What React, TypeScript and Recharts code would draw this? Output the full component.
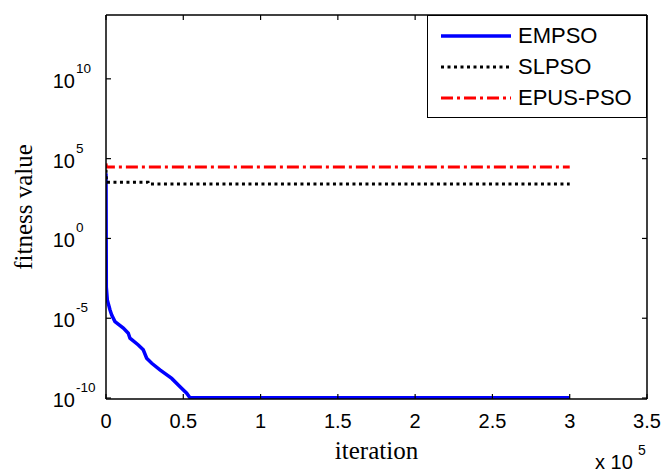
import React from "react";
import { LineChart, Line, XAxis, YAxis, Legend } from "recharts";

// iteration values and fitness values
const empsoIter = [0, 200, 840, 2600, 3700, 5800, 11200, 14400, 15500, 20900, 24100, 26300, 29600, 34900, 42500, 47900, 52200, 54300, 300000];
const empsoFit = [1.2e4, 9e-4, 1.4e-4, 3.3e-5, 1.6e-5, 6.2e-6, 2.4e-6, 1.15e-6, 5.6e-7, 2.1e-7, 1.05e-7, 3.1e-8, 1.5e-8, 5.8e-9, 1.7e-9, 5.1e-10, 2.0e-10, 1.05e-10, 1.05e-10];

const slpsoIter = [0, 300, 27200, 27300, 300000];
const slpsoFit = [2e4, 3.3e3, 3.3e3, 2.6e3, 2.6e3];

const epusIter = [0, 300, 300000];
const epusFit = [5e4, 3.0e4, 3.0e4];

const xTicks = [0, 50000, 100000, 150000, 200000, 250000, 300000, 350000];
const yTicks = [1e-10, 1e-5, 1, 1e5, 1e10];
const yExponents = ["-10", "-5", "0", "5", "10"];

const toRows = (iter: number[], fit: number[]) => iter.map((it, i) => ({ iter: it, value: fit[i] }));

const empsoData = toRows(empsoIter, empsoFit);
const slpsoData = toRows(slpsoIter, slpsoFit);
const epusData = toRows(epusIter, epusFit);

const series = [
  { name: "EMPSO", data: empsoData, color: "#0000ff", width: 3.5, dash: undefined as string | undefined },
  { name: "SLPSO", data: slpsoData, color: "#000000", width: 3, dash: "3 3.5" },
  { name: "EPUS-PSO", data: epusData, color: "#ff0000", width: 3, dash: "12 4 3 4" },
];

const SANS = "'Liberation Sans', Arial, sans-serif";
const SERIF = "'Liberation Serif', 'Times New Roman', serif";

const BottomTick = ({ x, y, payload }: any) => (
  <g>
    <line x1={x} x2={x} y1={y} y2={y - 5} stroke="#000" strokeWidth={1.2} />
    <text x={x} y={y + 29} textAnchor="middle" fontSize={20} fontFamily={SANS} fill="#000">
      {payload.value / 1e5}
    </text>
  </g>
);

const TopTick = ({ x, y }: any) => (
  <line x1={x} x2={x} y1={y} y2={y + 5} stroke="#000" strokeWidth={1.2} />
);

const LeftTick = ({ x, y, payload }: any) => {
  const idx = yTicks.indexOf(payload.value);
  return (
    <g>
      <line x1={x} x2={x + 5} y1={y} y2={y} stroke="#000" strokeWidth={1.2} />
      <text x={x - 31} y={y + 9} textAnchor="end" fontSize={20} fontFamily={SANS} fill="#000">
        10
      </text>
      <text x={x - 30} y={y - 6} textAnchor="start" fontSize={13.5} fontFamily={SANS} fill="#000">
        {yExponents[idx]}
      </text>
    </g>
  );
};

const RightTick = ({ x, y }: any) => (
  <line x1={x} x2={x - 5} y1={y} y2={y} stroke="#000" strokeWidth={1.2} />
);

const XLabel = ({ viewBox }: any) => {
  const { x, y, width } = viewBox;
  return (
    <g>
      <text x={x + width / 2} y={y + 60} textAnchor="middle" fontSize={25} fontFamily={SERIF} fill="#000">
        iteration
      </text>
      <text x={x + width - 52} y={y + 70} fontSize={20} fontFamily={SANS} fill="#000">
        x 10
      </text>
      <text x={x + width - 9} y={y + 56} fontSize={14} fontFamily={SANS} fill="#000">
        5
      </text>
    </g>
  );
};

const YLabel = ({ viewBox }: any) => {
  const { y, height } = viewBox;
  const cx = 32;
  const cy = y + height / 2;
  return (
    <text
      x={cx}
      y={cy}
      transform={`rotate(-90, ${cx}, ${cy})`}
      textAnchor="middle"
      fontSize={25}
      fontFamily={SERIF}
      fill="#000"
    >
      fitness value
    </text>
  );
};

const LegendBox = () => (
  <div
    style={{
      width: 220,
      height: 103,
      boxSizing: "border-box",
      border: "1.5px solid #000",
      background: "#fff",
      paddingTop: 4,
    }}
  >
    {series.map((s) => (
      <div key={s.name} style={{ display: "flex", alignItems: "center", height: 31 }}>
        <svg width={84} height={10} style={{ marginLeft: 13 }}>
          <line x1={0} x2={70} y1={5} y2={5} stroke={s.color} strokeWidth={s.width} strokeDasharray={s.dash} />
        </svg>
        <span style={{ fontFamily: SANS, fontSize: 22, color: "#000", marginLeft: -7 }}>{s.name}</span>
      </div>
    ))}
  </div>
);

export default function App() {
  return (
    <div style={{ position: "absolute", left: 0, top: 0, background: "#fff" }}>
      <LineChart width={665} height={473} margin={{ top: 14, right: 17, bottom: 14, left: 0 }}>
        <XAxis
          type="number"
          dataKey="iter"
          domain={[0, 350000]}
          ticks={xTicks}
          allowDataOverflow
          height={60}
          tickSize={0}
          tickMargin={0}
          tickLine={false}
          axisLine={{ stroke: "#000", strokeWidth: 1.5 }}
          tick={<BottomTick />}
          interval={0}
          label={<XLabel />}
        />
        <XAxis
          xAxisId="top"
          orientation="top"
          type="number"
          dataKey="iter"
          domain={[0, 350000]}
          ticks={xTicks}
          allowDataOverflow
          height={1}
          tickSize={0}
          tickMargin={0}
          tickLine={false}
          axisLine={{ stroke: "#000", strokeWidth: 1.5 }}
          tick={<TopTick />}
          interval={0}
        />
        <YAxis
          type="number"
          scale="log"
          domain={[8.7e-11, 1e14]}
          ticks={yTicks}
          allowDataOverflow
          width={106}
          tickSize={0}
          tickMargin={0}
          tickLine={false}
          axisLine={{ stroke: "#000", strokeWidth: 1.5 }}
          tick={<LeftTick />}
          interval={0}
          label={<YLabel />}
        />
        <YAxis
          yAxisId="right"
          orientation="right"
          type="number"
          scale="log"
          domain={[8.7e-11, 1e14]}
          ticks={yTicks}
          allowDataOverflow
          width={1}
          tickSize={0}
          tickMargin={0}
          tickLine={false}
          axisLine={{ stroke: "#000", strokeWidth: 1.5 }}
          tick={<RightTick />}
          interval={0}
        />
        {/* invisible series so the mirrored top/right axes (box frame) get a domain */}
        <Line
          xAxisId="top"
          yAxisId="right"
          data={epusData}
          dataKey="value"
          stroke="none"
          dot={false}
          activeDot={false}
          legendType="none"
          isAnimationActive={false}
        />
        {series.map((s) => (
          <Line
            key={s.name}
            data={s.data}
            dataKey="value"
            name={s.name}
            type="linear"
            stroke={s.color}
            strokeWidth={s.width}
            strokeDasharray={s.dash}
            dot={false}
            activeDot={false}
            isAnimationActive={false}
          />
        ))}
        <Legend
          layout="vertical"
          align="center"
          verticalAlign="middle"
          content={<LegendBox />}
          wrapperStyle={{ position: "absolute", left: 427, top: 15, width: 220, height: 103 }}
        />
      </LineChart>
    </div>
  );
}
